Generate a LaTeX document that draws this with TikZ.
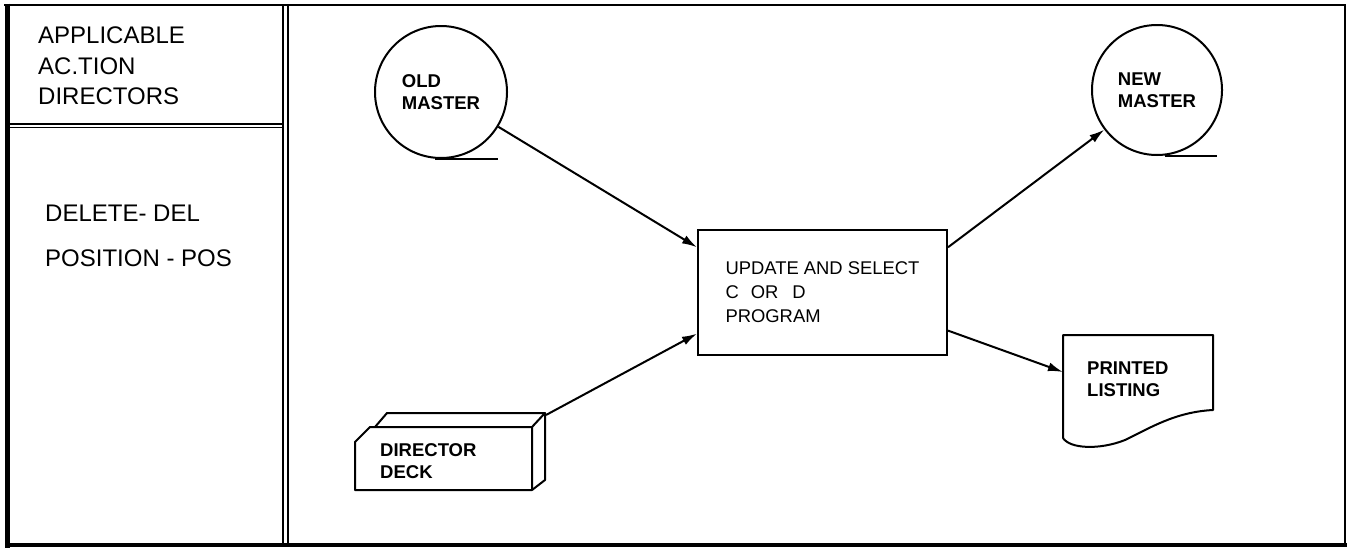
\documentclass[tikz,border=0pt]{standalone}
\usepackage{fontspec}
\setmainfont{Liberation Sans}
\usetikzlibrary{arrows.meta,calc}
\begin{document}
\begin{tikzpicture}[x=1pt,y=-1pt,
  shapeline/.style={line width=2pt,line join=round},
  flow/.style={line width=2pt,-{Latex[length=15pt,width=9pt]}},
  panel/.style={font=\fontsize{24}{30}\selectfont,anchor=base west,inner sep=0pt},
  lbl/.style={font=\fontsize{18.5}{22}\selectfont\bfseries,align=left,inner sep=0pt},
  tape/.style={circle,draw,line width=2pt,minimum size=132pt,inner sep=0pt,
    font=\fontsize{18.5}{22}\selectfont\bfseries,align=left},
  procbox/.style={draw,line width=2pt,minimum width=249pt,minimum height=125pt,
    inner sep=0pt,align=left,font=\fontsize{18.4}{24}\selectfont}
]
\useasboundingbox (0,0) rectangle (1348,549);
% frame
\draw[line width=2pt] (4,5) -- (1345,5) -- (1345,545);
\draw[line width=5pt] (7,3.5) -- (7,547.5);
\draw[line width=4pt] (5,545) -- (1347,545);
\draw[line width=1.5pt] (283,5) -- (283,545);
\draw[line width=1.5pt] (288,5) -- (288,545);
\draw[line width=1.5pt] (7,124) -- (283,124);
\draw[line width=1.5pt] (7,127.5) -- (283,127.5);
% left panel
\node[panel] (t1) at (38,43) {APPLICABLE};
\node[panel] (t2) at (38,74) {AC.TION};
\node[panel] (t3) at (38,104) {DIRECTORS};
\node[panel] (t4) at (45,221.5) {DELETE- DEL};
\node[panel] (t5) at (45,266.5) {POSITION - POS};
% tapes
\node[tape] (old) at (441,92) {OLD\\MASTER};
\draw[shapeline] ([xshift=-6pt]old.south) -- ([xshift=57pt]old.south);
\node[tape,minimum size=130pt] (new) at (1157,90) {NEW\\MASTER};
\draw[shapeline] ([xshift=8pt]new.south) -- ([xshift=60pt]new.south);
% process
\node[procbox] (box) at (822.5,292.5) {UPDATE AND SELECT\\C\hspace{12pt}OR\hspace{14pt}D\\PROGRAM};
% director deck
\draw[shapeline] (355,490) -- (355,442) -- (370,427) -- (532,427) -- (532,490) -- cycle;
\draw[shapeline] (375,427) -- (387,413) -- (545,413) -- (532,427);
\draw[shapeline] (545,413) -- (545,480) -- (532,490);
\node[lbl,anchor=west] (decktext) at (380,461) {DIRECTOR\\DECK};
\coordinate (deckout) at (546,415);
% printed listing
\draw[shapeline] (1063,438) -- (1063,335) -- (1213,335) -- (1213,410)
  .. controls (1175,412) and (1150,428) .. (1125,440)
  .. controls (1100,450) and (1070,449) .. (1063,438);
\node[lbl,anchor=west] (listtext) at (1087,379) {PRINTED\\LISTING};
\coordinate (listin) at (1063,372);
% connectors
\draw[flow] (old) -- ($(box.north west)!0.144!(box.south west)$);
\draw[flow] (deckout) -- ($(box.north west)!0.824!(box.south west)$);
\draw[flow] ($(box.north east)!0.144!(box.south east)$) -- (new);
\draw[flow] ($(box.north east)!0.8!(box.south east)$) -- (listin);
\end{tikzpicture}
\end{document}
